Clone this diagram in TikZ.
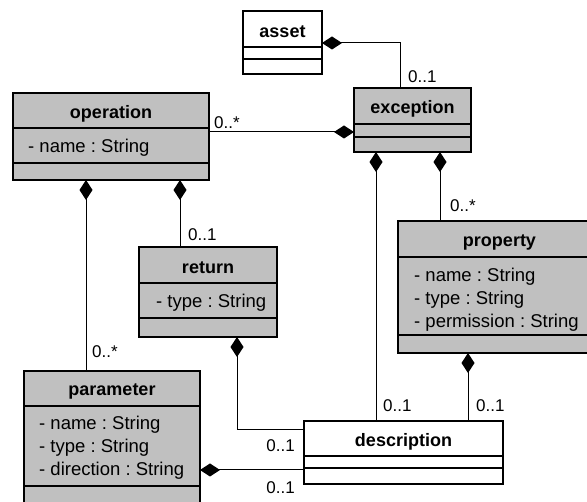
\documentclass[tikz,border=0pt]{standalone}
\usepackage{fontspec}
\setmainfont{Liberation Sans}
\usetikzlibrary{arrows.meta,fit}
\definecolor{classgray}{RGB}{192,192,192}
\frenchspacing

\tikzset{
  classbox/.style={draw=black, line width=2.6pt, inner sep=0pt, outer sep=0pt, rectangle},
  compart/.style={line width=1.4pt},
  classname/.style={font=\fontsize{18}{22}\selectfont\bfseries, inner sep=0pt, yshift=-3pt},
  attrs/.style={font=\fontsize{18.5}{23}\selectfont, align=left, anchor=west, inner sep=0pt},
  mult/.style={font=\fontsize{17}{21}\selectfont, inner sep=0pt, anchor=west},
  composition/.style={line width=1pt, {Diamond[length=20pt,width=13pt]}-},
}

% UML class: name, x1, y1, x2, y2, first separator, second separator, fill, title
\newcommand{\umlclass}[9]{%
  \node[classbox, fill=#8, fit={(#2,#3) (#4,#5)}] (#1) {};
  \draw[compart] (#1.west |- 0,#6) -- (#1.east |- 0,#6);
  \draw[compart] (#1.west |- 0,#7) -- (#1.east |- 0,#7);
  \pgfmathsetmacro\titley{(#3+#6)/2}
  \node[classname] (#1-name) at (#1.north |- 0,\titley) {#9};
}

\begin{document}
\begin{tikzpicture}[x=1pt, y=-1pt]
  \useasboundingbox (0,0) rectangle (587,502);
  \fill[white] (0,0) rectangle (587,502);
  \clip (0,0) rectangle (587,502);

  % classes
  \umlclass{asset}{243}{11}{322}{74}{47}{59}{white}{asset}
  \umlclass{exception}{354}{88}{471}{152}{124}{137}{classgray}{exception}
  \umlclass{operation}{13}{93}{209}{180}{128}{163}{classgray}{operation}
  \umlclass{return}{139}{247}{277}{337}{283}{318}{classgray}{return}
  \umlclass{property}{398}{221}{601}{353}{257}{335}{classgray}{property}
  \umlclass{parameter}{24}{371}{200}{515}{406}{486}{classgray}{parameter}
  \umlclass{description}{304}{421}{503}{484}{456}{468}{white}{description}

  % attributes
  \node[attrs] (operation-attrs) at (28,148) {- name : String};
  \node[attrs] (return-attrs) at (156,303) {- type : String};
  \node[attrs] (property-attrs) at (414,299.5) {- name : String\\- type : String\\- permission : String};
  \node[attrs] (parameter-attrs) at (39,447.5) {- name : String\\- type : String\\- direction : String};

  % compositions
  \draw[composition] (asset.east |- 0,43) -| (400,0 |- exception.north);
  \draw[composition] (exception.west |- 0,132) -- (operation.east |- 0,132);
  \draw[composition] (376,0 |- exception.south) -- (376,0 |- description.north);
  \draw[composition] (440,0 |- exception.south) -- (440,0 |- property.north);
  \draw[composition] (86,0 |- operation.south) -- (86,0 |- parameter.north);
  \draw[composition] (180,0 |- operation.south) -- (180,0 |- return.north);
  \draw[composition] (237,0 |- return.south) |- (description.west |- 0,430);
  \draw[composition] (parameter.east |- 0,470) -- (description.west |- 0,470);
  \draw[composition] (468,0 |- property.south) -- (468,0 |- description.north);

  % multiplicities
  \node[mult] (m-exc-asset) at (408,77) {0..1};
  \node[mult] (m-op-exc) at (214,123) {0..*};
  \node[mult] (m-desc-exc) at (383,406) {0..1};
  \node[mult] (m-prop-exc) at (450,206) {0..*};
  \node[mult] (m-par-op) at (92,352) {0..*};
  \node[mult] (m-ret-op) at (188,235) {0..1};
  \node[mult] (m-desc-prop) at (476,406) {0..1};
  \node[mult, anchor=east] (m-desc-ret) at (295,446) {0..1};
  \node[mult, anchor=east] (m-desc-par) at (295,488) {0..1};
\end{tikzpicture}
\end{document}
